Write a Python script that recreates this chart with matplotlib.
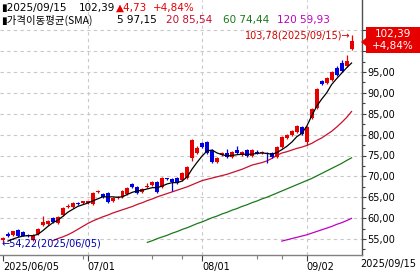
import matplotlib
matplotlib.use("Agg")
import matplotlib.pyplot as plt
import numpy as np
from matplotlib.patches import Polygon

# ---------------- data ----------------
opens = [54.8, 56.3, 56.0, 57.2, 56.7, 55.9, 54.8, 56.2, 58.4, 58.6,
         60.0, 58.8, 60.7, 62.7, 62.7, 63.7, 63.6, 63.7, 63.4, 66.2,
         65.8, 66.0, 64.1, 64.9, 65.0, 65.8, 68.2, 67.5, 66.3, 67.5,
         67.9, 68.6, 67.5, 69.5, 69.4, 69.6, 69.1, 69.6, 74.4, 75.6,
         78.0, 78.2, 76.3, 73.4, 75.2, 75.6, 74.6, 76.3, 75.1, 76.3,
         74.9, 75.9, 75.5, 75.6, 75.6, 74.6, 77.0, 79.2, 79.9, 80.6,
         81.8, 78.2, 84.0, 86.4, 92.8, 92.4, 93.1, 95.9, 97.2, 96.4,
         100.5]
highs = [55.5, 56.6, 57.0, 57.4, 56.9, 56.1, 56.1, 57.6, 60.5, 59.5,
         60.2, 60.5, 62.6, 63.3, 63.8, 63.9, 64.2, 64.2, 66.2, 66.8,
         66.0, 66.2, 65.0, 65.2, 66.7, 67.4, 68.4, 67.7, 67.2, 68.4,
         68.8, 68.8, 69.8, 69.7, 69.6, 69.8, 71.0, 72.4, 79.0, 77.2,
         78.3, 78.4, 76.5, 74.6, 75.9, 76.6, 76.0, 77.3, 76.0, 76.5,
         76.5, 76.3, 76.0, 75.8, 75.8, 77.2, 79.6, 80.1, 81.1, 82.2,
         82.0, 82.0, 86.4, 91.1, 93.0, 93.8, 95.2, 96.5, 97.9, 99.1,
         103.78]
lows = [54.22, 55.5, 55.8, 55.5, 55.6, 55.5, 54.6, 56.0, 58.2, 58.4,
        58.9, 58.6, 60.5, 62.5, 62.5, 63.2, 63.4, 63.5, 63.2, 66.0,
        64.9, 63.7, 63.9, 64.7, 64.8, 65.6, 67.3, 65.8, 66.1, 67.3,
        67.7, 66.1, 67.3, 69.1, 66.5, 68.2, 68.9, 69.4, 73.6, 75.3,
        76.8, 75.4, 73.2, 73.2, 75.0, 74.4, 74.4, 75.4, 74.9, 74.7,
        74.7, 75.4, 75.3, 73.2, 74.4, 74.4, 76.8, 79.0, 79.7, 80.4,
        79.9, 77.6, 83.8, 86.2, 91.9, 92.2, 92.9, 94.1, 95.0, 96.2,
        100.3]
closes = [55.3, 55.8, 56.8, 55.7, 55.7, 55.7, 55.9, 57.4, 59.0, 59.3,
          59.0, 60.3, 62.4, 62.9, 63.6, 63.4, 64.0, 64.0, 66.0, 66.4,
          65.0, 63.9, 64.8, 65.1, 66.5, 67.2, 67.5, 66.0, 67.0, 67.8,
          68.6, 66.3, 69.6, 69.3, 68.7, 68.4, 70.8, 72.2, 78.7, 76.8,
          77.0, 75.6, 73.4, 74.4, 75.5, 74.6, 75.8, 75.6, 75.8, 74.9,
          76.3, 75.7, 75.8, 75.3, 74.6, 77.0, 79.4, 79.9, 80.9, 82.0,
          80.1, 81.8, 86.1, 90.9, 92.1, 93.6, 95.0, 94.3, 95.2, 97.66,
          102.39]

nan = np.nan
sma5 = [nan, 54.5, 55.0, 55.4, 55.7, 55.8, 55.8, 56.1, 57.0, 58.0,
        58.9, 59.5, 60.4, 61.4, 62.1, 62.8, 63.2, 63.6, 64.1, 64.6,
        65.1, 65.1, 65.1, 65.0, 65.1, 65.7, 66.2, 66.5, 66.7, 67.0,
        67.3, 67.3, 67.7, 68.2, 68.5, 68.5, 68.9, 69.9, 71.8, 73.4,
        74.9, 76.1, 76.3, 75.6, 75.2, 74.9, 75.0, 75.2, 75.3, 75.3,
        75.3, 75.5, 75.6, 75.5, 75.3, 75.7, 76.4, 77.2, 78.2, 79.5,
        80.3, 82.0, 84.5, 86.8, 88.5, 90.0, 92.0, 93.4, 94.7, 96.0,
        97.15]
sma20 = [nan] * 10 + [
        54.6, 55.1, 55.5, 56.0, 56.6, 57.3, 58.0, 58.7, 59.3, 59.8,
        60.3, 60.7, 61.2, 61.6, 62.0, 62.4, 62.8, 63.3, 63.7, 64.2,
        64.6, 65.1, 65.5, 65.9, 66.3, 66.7, 67.1, 67.5, 68.0, 68.5,
        69.0, 69.3, 69.6, 69.9, 70.2, 70.5, 70.9, 71.3, 71.7, 72.2,
        72.7, 73.0, 73.3, 73.7, 74.3, 75.0, 75.6, 75.9, 76.3, 76.7,
        77.0, 77.4, 77.9, 78.6, 79.2, 80.0, 80.8, 81.8, 82.9, 84.1,
        85.54]
sma60 = [nan] * 29 + [
        54.2, 54.6, 55.1, 55.5, 55.9, 56.4, 56.8, 57.3, 57.7, 58.2,
        58.7, 59.1, 59.6, 60.1, 60.5, 61.0, 61.4, 61.9, 62.3, 62.8,
        63.2, 63.7, 64.1, 64.6, 65.0, 65.5, 66.0, 66.5, 67.0, 67.5,
        68.0, 68.5, 69.0, 69.5, 70.1, 70.7, 71.3, 71.9, 72.5, 73.1,
        73.8, 74.44]
sma120 = [nan] * 56 + [
        54.5, 54.8, 55.1, 55.4, 55.7, 56.0, 56.4, 56.8, 57.2, 57.6,
        58.0, 58.5, 58.9, 59.4, 59.93]

tick_idx = [0, 17, 40, 61]
tick_labels = ["2025/06/05", "07/01", "08/01", "09/02"]
minor_idx = [16, 30, 36, 51, 56]
last_label = "2025/09/15"
yticks = [55, 60, 65, 70, 75, 80, 85, 90, 95, 100, 105]
ylabels_shown = [55, 60, 65, 70, 75, 80, 85, 90, 95]   # 100/105 hidden behind the price box

# ---------------- style ----------------
UP = "#e60000"
DN = "#0000e0"
C5 = "#000000"
C20 = "#c8102e"
C60 = "#1a7a1a"
C120 = "#c000c0"
FONT = ["DejaVu Sans"]
KFONT = ["Noto Sans CJK KR", "DejaVu Sans"]

W, H = 420, 273
fig = plt.figure(figsize=(W / 100, H / 100), dpi=100)
fig.patch.set_facecolor("white")
ax_bottom_px = 255
ax_right_px = 362
ax = fig.add_axes([0, (H - ax_bottom_px) / H, ax_right_px / W, ax_bottom_px / H])

px_per_unit = 4.175
ytop = 55 + 239 / px_per_unit
ybot = 55 - (ax_bottom_px - 239) / px_per_unit
ax.set_ylim(ybot, ytop)
ax.set_xlim(-0.6, 72.1)

n = len(closes)
x = np.arange(n)

# grid
for yv in yticks:
    ax.axhline(yv, color="#c8c8c8", lw=0.8, ls=(0, (3, 3)), zorder=0)
for xi in tick_idx[1:]:
    ax.axvline(xi, color="#c8c8c8", lw=0.8, ls=(0, (3, 3)), zorder=0)

# moving averages
ax.plot(x, sma120, color=C120, lw=0.9, zorder=2)
ax.plot(x, sma60, color=C60, lw=0.9, zorder=2)
ax.plot(x, sma20, color=C20, lw=0.9, zorder=2)
ax.plot(x, sma5, color=C5, lw=0.9, zorder=4)

# candles
for i in range(n):
    o, h, l, c = opens[i], highs[i], lows[i], closes[i]
    col = UP if c >= o else DN
    ax.vlines(i, l, h, color=col, lw=0.9, zorder=3)
    lo_b = min(o, c)
    hgt = max(abs(c - o), 0.2)
    ax.bar(i, hgt, bottom=lo_b, width=0.8, color=col, edgecolor=col, lw=0, zorder=3)

# axes style
for s in ["top", "left"]:
    ax.spines[s].set_visible(False)
ax.spines["right"].set_color("#505050")
ax.spines["bottom"].set_color("#808080")
ax.spines["right"].set_linewidth(1.0)
ax.spines["bottom"].set_linewidth(1.0)
ax.yaxis.tick_right()
ax.set_yticks(yticks)
ax.set_yticklabels([f"{v:.2f}".replace(".", ",") if v in ylabels_shown else "" for v in yticks],
                   fontsize=7, family=FONT)
ax.set_yticks(np.arange(52.5, 106, 2.5), minor=True)
ax.tick_params(axis="y", which="major", length=3, width=0.8, color="#404040", pad=1)
ax.tick_params(axis="y", which="minor", length=2, width=0.8, color="#404040")
ax.set_xticks(tick_idx)
ax.set_xticklabels(tick_labels, fontsize=7, family=FONT, ha="left")
ax.set_xticks(minor_idx, minor=True)
ax.tick_params(axis="x", which="major", length=4, width=0.8, color="#404040", pad=1, direction="out")
ax.tick_params(axis="x", which="minor", length=3, width=0.8, color="#808080", direction="out")

def ftext(px, py, s, color="black", size=7.5, family=FONT, **kw):
    fig.text(px / W, 1 - py / H, s, color=color, fontsize=size, family=family,
             va="center", ha=kw.pop("ha", "left"), **kw)

# last x label outside the axes
ftext(360, 264, last_label, size=7)

# header
ftext(1, 8, "▮2025/09/15", size=7.5)
ftext(79, 8, "102,39", size=7.5)
ftext(116, 8, "▲4,73", color=UP, size=7.5)
ftext(153, 8, "+4,84%", color=UP, size=7.5)
ftext(1, 20, "▮가격이동평균(SMA)", size=7.5, family=KFONT)
ftext(117, 20, "5 97,15", size=7.5)
ftext(166, 20, "20 85,54", color=C20, size=7.5)
ftext(223, 20, "60 74,44", color=C60, size=7.5)
ftext(277, 20, "120 59,93", color=C120, size=7.5)

# high / low annotations
ax.annotate("103,78(2025/09/15)→", xy=(70, highs[70]), xytext=(69.8, highs[70] - 0.1),
            color="#d00000", fontsize=7, family=FONT, ha="right", va="center")
ax.annotate("←54,22(2025/06/05)", xy=(0, lows[0]), xytext=(-0.2, lows[0] - 0.25),
            color="#0000b0", fontsize=7, family=FONT, ha="left", va="center")

# last price box on the right axis
bx0, bx1, by0, by1, tipy = 366, 420, 27, 53, 42
poly = Polygon([(bx0 / W, 1 - by0 / H), (bx1 / W, 1 - by0 / H), (bx1 / W, 1 - by1 / H),
                (bx0 / W, 1 - by1 / H), (bx0 / W, 1 - (tipy + 4) / H),
                ((bx0 - 5) / W, 1 - tipy / H), (bx0 / W, 1 - (tipy - 4) / H)],
               closed=True, transform=fig.transFigure, facecolor="#e60000",
               edgecolor="none", zorder=10)
fig.patches.append(poly)
ftext(393, 33.5, "102,39", color="white", size=7.5, ha="center", zorder=11)
ftext(393, 46, "+4,84%", color="white", size=7.5, ha="center", zorder=11)

fig.savefig("out.png", dpi=100, facecolor="white")
